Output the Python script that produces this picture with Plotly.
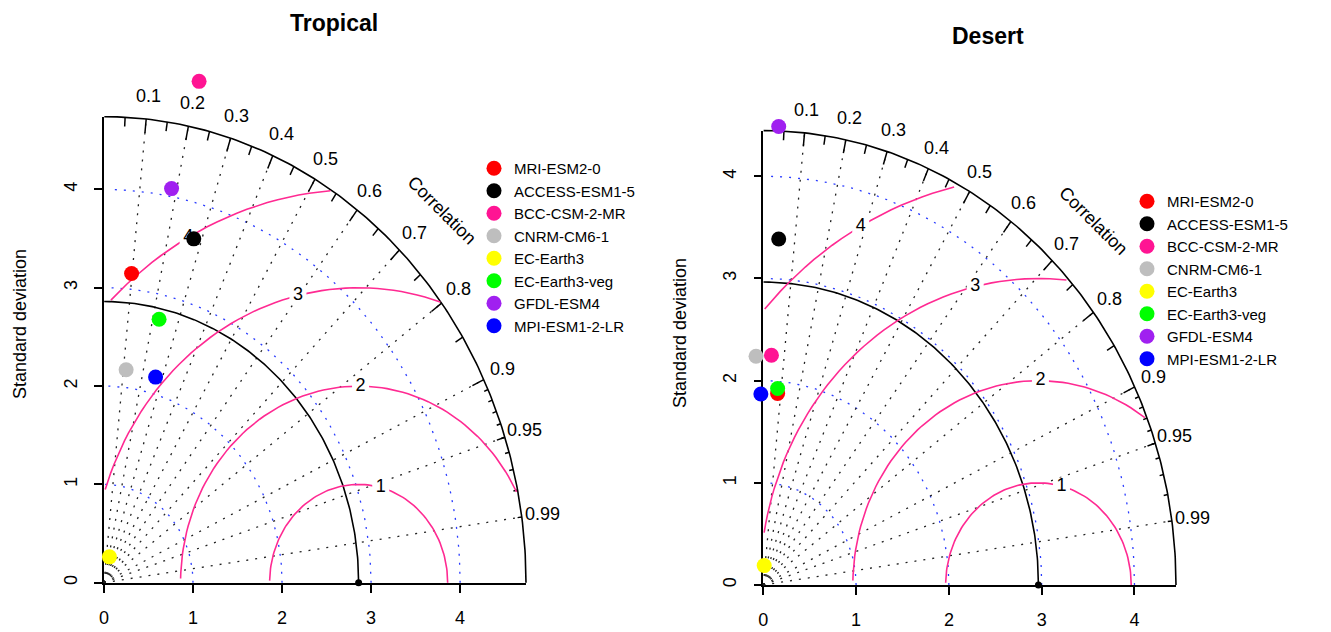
import numpy as np
import plotly.graph_objects as go

# ---------------- data ----------------
models = ["MRI-ESM2-0", "ACCESS-ESM1-5", "BCC-CSM-2-MR", "CNRM-CM6-1",
          "EC-Earth3", "EC-Earth3-veg", "GFDL-ESM4", "MPI-ESM1-2-LR"]
model_colors = ["#FF0000", "#000000", "#FF1493", "#BEBEBE",
                "#FFFF00", "#00FF00", "#A020F0", "#0000FF"]

tropical_sd = [3.16, 3.64, 5.21, 2.18, 0.27, 2.75, 4.08, 2.17]
tropical_corr = [0.098, 0.277, 0.205, 0.114, 0.225, 0.225, 0.186, 0.267]
tropical_ref_sd = 2.86

desert_sd = [1.88, 3.39, 2.25, 2.24, 0.19, 1.93, 4.49, 1.87]
desert_corr = [0.082, 0.049, 0.039, -0.035, 0.050, 0.080, 0.037, -0.014]
desert_ref_sd = 2.965

corr_labels = [0.1, 0.2, 0.3, 0.4, 0.5, 0.6, 0.7, 0.8, 0.9, 0.95, 0.99]
sd_ticks = [0, 1, 2, 3, 4]
rms_levels = [1, 2, 3, 4]

# ---------------- layout constants ----------------
W, H = 1331, 632
FONT = "Liberation Sans, Arial, sans-serif"
PINK = "#FF2A92"
panels = [
    dict(title="Tropical", sd=tropical_sd, corr=tropical_corr, ref=tropical_ref_sd,
         box=(104.0, 526.0, 116.7, 582.7), axes=("x", "y"), data_axes=("x3", "y3"),
         legend="legend", title_xy=(334, 23), ylab_xy=(19.6, 324.5)),
    dict(title="Desert", sd=desert_sd, corr=desert_corr, ref=desert_ref_sd,
         box=(763.3, 1176.0, 130.6, 585.0), axes=("x2", "y2"), data_axes=("x4", "y4"),
         legend="legend2", title_xy=(988, 36.5), ylab_xy=(679.6, 333.5)),
]
EXT_L, EXT_R, EXT_B, EXT_T = 1.0, 1.0, 0.3, 1.0   # extra data range of the drawing axes

fig = go.Figure()
annotations = []
layout_axes = {}


def axkey(name):
    return ("xaxis" if name[0] == "x" else "yaxis") + name[1:]


def seg_trace(xs, ys, xa, ya, color, width, dash="solid"):
    return go.Scatter(x=xs, y=ys, mode="lines", xaxis=xa, yaxis=ya,
                      line=dict(color=color, width=width, dash=dash),
                      hoverinfo="skip", showlegend=False, cliponaxis=False)


for p in panels:
    sd, corr, ref = p["sd"], p["corr"], p["ref"]
    vx, vy = p["axes"]
    xa, ya = p["data_axes"]
    maxsd = 1.5 * max(sd[0], ref)
    x0, x1, y0, y1 = p["box"]
    ux = (x1 - x0) / maxsd
    uy = (y1 - y0) / maxsd

    # ---- visible axes (0 .. maxsd) ----
    axcommon = dict(range=[0, maxsd], showgrid=False, zeroline=False, showline=True,
                    linecolor="black", linewidth=1.6, ticks="outside", ticklen=8,
                    tickwidth=1.5, tickcolor="black", tickvals=sd_ticks,
                    ticktext=[str(v) for v in sd_ticks], ticklabelstandoff=10,
                    tickfont=dict(family=FONT, size=18, color="black"),
                    automargin=False, fixedrange=True)
    layout_axes[axkey(vx)] = dict(axcommon, domain=[x0 / W, x1 / W], anchor=vy)
    layout_axes[axkey(vy)] = dict(axcommon, domain=[(H - y1) / H, (H - y0) / H],
                                  anchor=vx, tickangle=-90)
    fig.add_trace(go.Scatter(x=[0], y=[0], mode="markers", xaxis=vx, yaxis=vy,
                             marker=dict(opacity=0), hoverinfo="skip", showlegend=False))

    # ---- drawing axes: same scale, wider range, hidden ----
    hidden = dict(showgrid=False, zeroline=False, showline=False, showticklabels=False,
                  ticks="", automargin=False, fixedrange=True)
    layout_axes[axkey(xa)] = dict(hidden, range=[-EXT_L, maxsd + EXT_R], anchor=ya,
                                  domain=[(x0 - EXT_L * ux) / W, (x1 + EXT_R * ux) / W])
    layout_axes[axkey(ya)] = dict(hidden, range=[-EXT_B, maxsd + EXT_T], anchor=xa,
                                  domain=[(H - (y1 + EXT_B * uy)) / H, (H - (y0 - EXT_T * uy)) / H])

    # blue dotted sd arcs
    xs, ys = [], []
    t = np.arange(0, np.pi / 2, 0.03)
    for s in sd_ticks[1:]:
        xs += list(s * np.cos(t)) + [None]
        ys += list(s * np.sin(t)) + [None]
    fig.add_trace(seg_trace(xs, ys, xa, ya, "#2A3CFF", 1.3, "2px,7px"))

    # black dotted correlation lines
    xs, ys = [], []
    for c in corr_labels:
        xs += [0, maxsd * c, None]
        ys += [0, maxsd * np.sqrt(1 - c * c), None]
    fig.add_trace(seg_trace(xs, ys, xa, ya, "#222222", 1.3, "2px,7px"))

    # outer arc and reference arc
    t = np.arange(0, np.pi / 2 + 1e-9, 0.01)
    fig.add_trace(seg_trace(list(maxsd * np.cos(t)), list(maxsd * np.sin(t)), xa, ya, "black", 1.6))
    fig.add_trace(seg_trace(list(ref * np.cos(t)), list(ref * np.sin(t)), xa, ya, "black", 1.6))

    # tick marks on outer arc
    xs, ys = [], []
    big = np.arccos(np.arange(0.1, 0.91, 0.1))
    med = np.arccos(np.arange(0.05, 0.951, 0.1))
    sml = np.arccos(np.arange(0.91, 0.991, 0.01))
    for angs, f in ((big, 0.97), (med, 0.98), (sml, 0.99)):
        for a in angs:
            xs += [maxsd * np.cos(a), f * maxsd * np.cos(a), None]
            ys += [maxsd * np.sin(a), f * maxsd * np.sin(a), None]
    fig.add_trace(seg_trace(xs, ys, xa, ya, "black", 1.5))

    # centred RMS difference arcs
    tg = np.arange(0, np.pi + 1e-9, 0.03)
    labelpos = np.linspace(45, 70, len(rms_levels)).astype(int) - 1
    lab_x, lab_y, lab_t = [], [], []
    for g, lp in zip(rms_levels, labelpos):
        xc = np.cos(tg) * g + ref
        yc = np.sin(tg) * g
        neg = np.where(xc < 0)[0]
        end = neg.min() - 1 if len(neg) else len(tg) - 1
        over = np.where(xc * xc + yc * yc > maxsd * maxsd)[0]
        start = over.max() + 1 if len(over) else 0
        fig.add_trace(seg_trace(list(xc[start:end + 1]), list(yc[start:end + 1]), xa, ya, PINK, 1.6))
        if xc[lp] > 0:
            lab_x.append(xc[lp]); lab_y.append(yc[lp]); lab_t.append(str(g))
    fig.add_trace(go.Scatter(x=lab_x, y=lab_y, mode="markers", xaxis=xa, yaxis=ya,
                             marker=dict(symbol="square", size=17, color="white"),
                             hoverinfo="skip", showlegend=False, cliponaxis=False))
    fig.add_trace(go.Scatter(x=lab_x, y=lab_y, mode="text", text=lab_t, xaxis=xa, yaxis=ya,
                             textfont=dict(family=FONT, size=18, color="black"),
                             hoverinfo="skip", showlegend=False, cliponaxis=False))

    # reference point
    fig.add_trace(go.Scatter(x=[ref], y=[0], mode="markers", xaxis=xa, yaxis=ya,
                             marker=dict(color="black", size=7),
                             hoverinfo="skip", showlegend=False, cliponaxis=False))

    # model points
    for name, col, s, c in zip(models, model_colors, sd, corr):
        fig.add_trace(go.Scatter(x=[s * c], y=[s * np.sqrt(1 - c * c)], mode="markers",
                                 name=name, legend=p["legend"], xaxis=xa, yaxis=ya,
                                 marker=dict(color=col, size=15, line=dict(width=0)),
                                 cliponaxis=False))

    # correlation labels
    for c in corr_labels:
        a = np.arccos(c)
        annotations.append(dict(x=1.05 * maxsd * np.cos(a), y=1.05 * maxsd * np.sin(a),
                                xref=xa, yref=ya, text=str(c), showarrow=False,
                                xanchor="center", yanchor="middle",
                                font=dict(family=FONT, size=18, color="black")))
    annotations.append(dict(x=0.8 * maxsd, y=0.8 * maxsd, xref=xa, yref=ya,
                            text="Correlation", showarrow=False, textangle=45,
                            font=dict(family=FONT, size=18, color="black")))

    # titles and y labels
    tx, ty = p["title_xy"]
    annotations.append(dict(x=tx / W, y=(H - ty) / H, xref="paper", yref="paper",
                            text="<b>" + p["title"] + "</b>", showarrow=False,
                            xanchor="center", yanchor="middle",
                            font=dict(family=FONT, size=23, color="black")))
    lx, ly = p["ylab_xy"]
    annotations.append(dict(x=lx / W, y=(H - ly) / H, xref="paper", yref="paper",
                            text="Standard deviation", showarrow=False, textangle=-90,
                            xanchor="center", yanchor="middle",
                            font=dict(family=FONT, size=18, color="black")))

legend_common = dict(xanchor="left", yanchor="top", bgcolor="rgba(0,0,0,0)",
                     font=dict(family=FONT, size=15, color="black"),
                     itemsizing="trace", itemclick=False, itemdoubleclick=False)
fig.update_layout(
    width=W, height=H, autosize=False,
    margin=dict(l=0, r=0, t=0, b=0),
    paper_bgcolor="white", plot_bgcolor="rgba(0,0,0,0)",
    showlegend=True,
    legend=dict(legend_common, x=474 / W, y=(H - 152) / H),
    legend2=dict(legend_common, x=1127 / W, y=(H - 185) / H),
    annotations=annotations,
    font=dict(family=FONT),
    **layout_axes,
)

fig.write_html("out.html", config={"displayModeBar": False},
               post_script="document.body.style.margin='0';")
